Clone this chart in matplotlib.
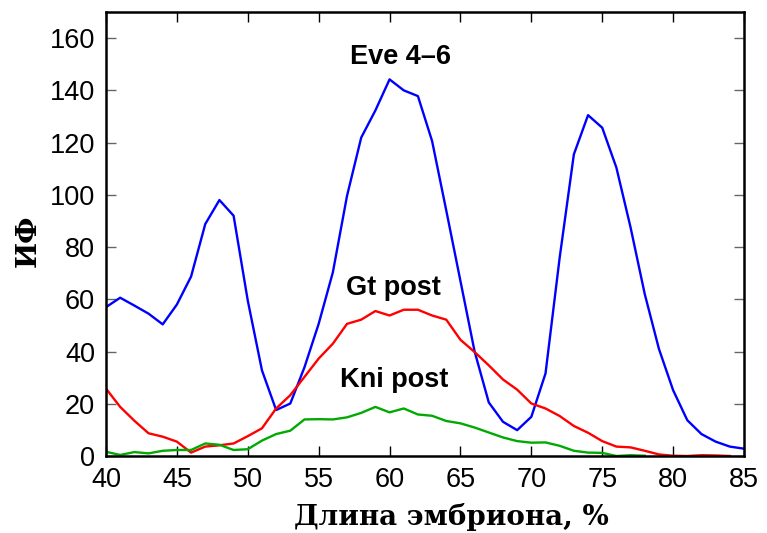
import matplotlib
matplotlib.use('Agg')
import matplotlib.pyplot as plt

# положение вдоль эмбриона, %
x_eve = list(range(40, 86))
x_gt = list(range(40, 85))
x_kni = list(range(40, 79))

eve = [57.0, 60.6, 57.6, 54.5, 50.4, 58.0, 68.7, 88.8, 98.0, 92.0,
       59.5, 32.8, 17.6, 20.1, 34.0, 50.6, 70.3, 99.6, 121.9, 132.3,
       144.2, 140.0, 137.8, 120.6, 94.0, 67.0, 40.0, 20.5, 13.1, 9.9,
       15.0, 31.6, 76.0, 115.5, 130.5, 125.7, 110.4, 87.5, 62.0, 41.0,
       25.2, 13.7, 8.4, 5.5, 3.6, 2.8]
gt = [25.8, 18.8, 13.5, 8.7, 7.4, 5.5, 1.3, 3.6, 4.1, 4.8,
      7.6, 10.6, 18.2, 23.3, 30.3, 37.3, 43.0, 50.6, 52.2, 55.5,
      53.8, 56.0, 56.0, 53.8, 52.2, 44.5, 39.8, 34.7, 29.3, 25.4,
      20.1, 18.2, 15.3, 11.5, 8.9, 5.7, 3.6, 3.3, 2.0, 0.6,
      0.1, 0.0, 0.3, 0.2, 0.0]
kni = [1.6, 0.4, 1.5, 1.0, 2.0, 2.3, 2.3, 4.8, 4.3, 2.3,
       2.6, 5.9, 8.4, 9.7, 14.0, 14.1, 14.0, 14.8, 16.5, 18.8,
       16.7, 18.2, 15.9, 15.4, 13.4, 12.5, 10.9, 9.0, 7.1, 5.7,
       5.1, 5.2, 3.9, 2.0, 1.3, 1.2, 0.0, 0.3, 0.1]

fig = plt.figure(figsize=(7.67, 5.33), dpi=100)
ax = fig.add_axes([106/767, 77/533, 638/767, 444/533])

ax.plot(x_eve, eve, color='#0000ff', lw=1.7)
ax.plot(x_gt, gt, color='#ff0000', lw=1.7)
ax.plot(x_kni, kni, color='#00aa00', lw=1.7)

lab = dict(ha='center', va='baseline', fontsize=19.5, fontweight='bold',
           family='Liberation Sans')
ax.text(60.8, 150, 'Eve 4–6', **lab)
ax.text(60.3, 61.7, 'Gt post', **lab)
ax.text(60.3, 26.4, 'Kni post', **lab)

ax.set_xlim(40, 85)
ax.set_ylim(0, 170)
ax.set_xticks(range(40, 86, 5))
ax.set_yticks(range(0, 161, 20))

for s in ax.spines.values():
    s.set_linewidth(1.8)

ax.tick_params(axis='x', direction='in', top=True, length=7, width=1,
               color='black', pad=8, labelsize=19.5)
ax.tick_params(axis='y', direction='in', right=True, length=7, width=1,
               color='0.4', pad=8, labelsize=19.5)
for t in ax.get_xticklabels() + ax.get_yticklabels():
    t.set_family('Liberation Sans')

ax.set_xlabel('Длина эмбриона, %', family='DejaVu Serif',
              fontweight='bold', fontsize=20)
ax.set_ylabel('ИФ', family='DejaVu Serif', fontweight='bold', fontsize=20)
ax.xaxis.set_label_coords(0.5415, -0.106)
ax.xaxis.label.set_va('top')
ax.yaxis.set_label_coords(-0.122, 0.485)
ax.yaxis.label.set_va('center')

fig.savefig('out.png', dpi=100)
